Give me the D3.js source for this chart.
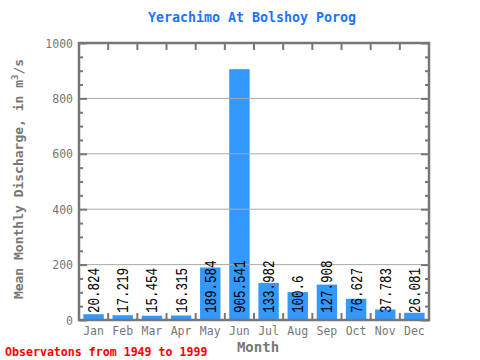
<!DOCTYPE html>
<html><head><meta charset="utf-8">
<script src="https://cdn.jsdelivr.net/npm/d3@7"></script>
<style>body{margin:0;background:#fff}svg{display:block}</style>
</head><body>
<script>
const months = ["Jan","Feb","Mar","Apr","May","Jun","Jul","Aug","Sep","Oct","Nov","Dec"];
const values = [20.824,17.219,15.454,16.315,189.584,905.541,133.982,100.6,127.908,76.627,37.783,26.081];
const labels = ["20.824","17.219","15.454","16.315","189.584","905.541","133.982","100.6","127.908","76.627","37.783","26.081"];
const yTicks = [0,200,400,600,800,1000];
const title = "Yerachimo At Bolshoy Porog";
const footer = "Observatons from 1949 to 1999";

const W=480,H=360, L=79,R=429,T=43,B=320;
const svg=d3.select("body").append("svg").attr("width",W).attr("height",H);
const x=d3.scaleBand().domain(months).range([L,R]).paddingInner(0.3).paddingOuter(0.15);
const y=d3.scaleLinear().domain([0,1000]).range([B,T]);
const gray="#777";
const mono="'DejaVu Sans Mono', monospace";

svg.append("text").attr("x",252).attr("y",22).attr("text-anchor","middle")
  .attr("font-family",mono).attr("font-weight","bold").attr("font-size",13.3)
  .attr("fill","#1a75ff").text(title);

// bars
svg.selectAll("rect.bar").data(values).enter().append("rect")
  .attr("x",(d,i)=>x(months[i])).attr("width",x.bandwidth())
  .attr("y",d=>y(d)).attr("height",d=>B-y(d)).attr("fill","#3399ff");

// gridlines
svg.selectAll("line.grid").data(yTicks.filter(v=>v>0&&v<1000)).enter().append("line")
  .attr("x1",L).attr("x2",R).attr("y1",d=>y(d)).attr("y2",d=>y(d))
  .attr("stroke","#aaa").attr("stroke-width",1);

// bar labels
svg.selectAll("text.lab").data(labels).enter().append("text")
  .attr("transform",(d,i)=>`translate(${x(months[i])+x.bandwidth()/2+5.5},313) rotate(-90) scale(0.76,1)`)
  .attr("font-family","'Liberation Mono', monospace").attr("font-size",16.5)
  .attr("fill","#000").text(d=>d);

// axes
const minor=d3.range(0,1001,50);
const yl=svg.append("g").attr("transform",`translate(${L},0)`);
yl.call(d3.axisRight(y).tickValues(minor).tickSize(0).tickFormat(""));
yl.select(".domain").remove();
yl.selectAll(".tick line").attr("x2",d=>d%200===0?8:4).attr("stroke",gray).attr("stroke-width",2);
const yr=svg.append("g").attr("transform",`translate(${R},0)`);
yr.call(d3.axisLeft(y).tickValues(minor).tickSize(0).tickFormat(""));
yr.select(".domain").remove();
yr.selectAll(".tick line").attr("x2",d=>d%200===0?-8:-4).attr("stroke",gray).attr("stroke-width",2);

const ylab=svg.append("g").attr("transform",`translate(${L-6},0)`);
ylab.call(d3.axisLeft(y).tickValues(yTicks).tickFormat(d3.format("d")).tickSize(0).tickPadding(0));
ylab.select(".domain").remove();
ylab.selectAll("text").attr("font-family",mono).attr("font-size",11.5).attr("fill",gray).attr("dy","0.35em");

const bounds=d3.range(1,12).map(i=>x.step()*i+L);
svg.selectAll("line.tb").data(bounds).enter().append("line")
  .attr("x1",d=>d).attr("x2",d=>d).attr("y1",T).attr("y2",T+7).attr("stroke",gray).attr("stroke-width",2);
svg.selectAll("line.bb").data(bounds).enter().append("line")
  .attr("x1",d=>d).attr("x2",d=>d).attr("y1",B).attr("y2",B-7).attr("stroke",gray).attr("stroke-width",2);

const xa=svg.append("g").attr("transform",`translate(0,${B+2})`);
xa.call(d3.axisBottom(x).tickSize(0).tickPadding(0));
xa.select(".domain").remove();
xa.selectAll("text").attr("font-family",mono).attr("font-size",11.5).attr("fill",gray).attr("dy","1.1em");

svg.append("rect").attr("x",L).attr("y",T).attr("width",R-L).attr("height",B-T)
  .attr("fill","none").attr("stroke",gray).attr("stroke-width",2.5);

svg.append("text").attr("x",258).attr("y",352).attr("text-anchor","middle")
  .attr("font-family",mono).attr("font-weight","bold").attr("font-size",14).attr("fill",gray).text("Month");

const yt=svg.append("text").attr("transform","translate(23,179) rotate(-90)").attr("text-anchor","middle")
  .attr("font-family",mono).attr("font-weight","bold").attr("font-size",13).attr("fill",gray);
yt.append("tspan").text("Mean Monthly Discharge, in  m");
yt.append("tspan").attr("dy",-5).attr("font-size",9).text("3");
yt.append("tspan").attr("dy",5).text("/s");

svg.append("text").attr("x",5).attr("y",356).attr("font-family",mono).attr("font-weight","bold")
  .attr("font-size",11.6).attr("fill","#ff0000").text(footer);
</script>
</body></html>
